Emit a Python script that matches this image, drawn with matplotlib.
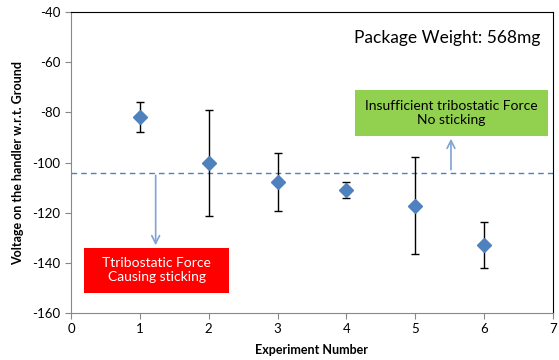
import matplotlib
matplotlib.use("Agg")
import matplotlib.pyplot as plt
from matplotlib.patches import Rectangle

plt.rcParams['font.family'] = ['Lato', 'DejaVu Sans']
plt.rcParams['axes.unicode_minus'] = False

experiments = [1, 2, 3, 4, 5, 6]
voltage = [-82, -100.3, -107.8, -111, -117.3, -132.9]
err = [6, 21.2, 11.5, 3.3, 19.3, 9.2]
threshold = -104

fig = plt.figure(figsize=(5.59, 3.6), dpi=100)
ax = fig.add_axes([0.127, 0.1306, 0.862, 0.836])

ax.errorbar(experiments, voltage, yerr=err, fmt='D', color='#4F81BD',
            markersize=6.8, ecolor='black', elinewidth=1, capsize=3, capthick=1, zorder=3)
ax.axhline(threshold, color='#4F81BD', linestyle=(0, (4, 3)), linewidth=1)

ax.set_xlim(0, 7)
ax.set_ylim(-160, -40)
ax.set_xticks(range(0, 8))
ax.set_yticks(range(-160, -39, 20))

for s in ['left', 'bottom']:
    ax.spines[s].set_color('#888888')
for s in ['top', 'right']:
    ax.spines[s].set_color('black')
ax.tick_params(axis='both', direction='out', color='#888888', labelsize=9.5, length=4)

ax.set_xlabel('Experiment Number', fontsize=9, fontweight='bold', labelpad=6)
ax.set_ylabel('Voltage on the handler w.r.t. Ground', fontsize=9, fontweight='bold', labelpad=6)

ax.text(0.78, 0.913, 'Package Weight: 568mg', transform=ax.transAxes, fontsize=12.5,
        ha='center', va='center')

# red box
ax.add_patch(Rectangle((0.19, -152.0), 2.11, 17.9, facecolor='#FF0000', edgecolor='none', zorder=2))
ax.text(1.245, -143, 'Ttribostatic Force\nCausing sticking', color='white', fontsize=10,
        ha='center', va='center', zorder=4, linespacing=1.2)
ax.annotate('', xy=(1.23, -134.1), xytext=(1.23, threshold),
            arrowprops=dict(arrowstyle='->', color='#7EA3D4', lw=1.2, mutation_scale=14))

# green box
ax.add_patch(Rectangle((4.13, -89.4), 2.8, 18.3, facecolor='#92D050', edgecolor='none', zorder=2))
ax.text(5.53, -80.2, 'Insufficient tribostatic Force\nNo sticking', color='black', fontsize=10,
        ha='center', va='center', zorder=4, linespacing=1.2)
ax.annotate('', xy=(5.52, -89.4), xytext=(5.52, threshold),
            arrowprops=dict(arrowstyle='->', color='#7EA3D4', lw=1.2, mutation_scale=14))

fig.savefig('out.png', dpi=100)
